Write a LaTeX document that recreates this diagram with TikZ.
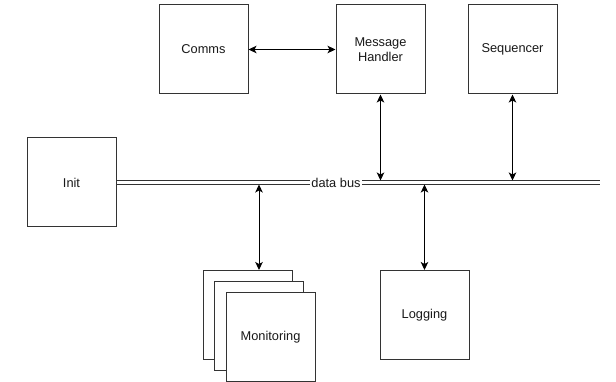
\documentclass[tikz,border=0pt]{standalone}
\usepackage{fontspec}
\setmainfont{Liberation Sans}
\usetikzlibrary{arrows.meta}

\begin{document}
\begin{tikzpicture}[
    % one unit is one pixel of the sketch, y runs downwards
    x=1pt, y=-1pt,
    block/.style={draw=black!80, fill=white, line width=1pt,
        minimum width=89pt, minimum height=89pt, align=center,
        font=\fontsize{12.8}{15}\selectfont, text=black!90},
    link/.style={draw=black, line width=1pt,
        {Stealth[length=8pt,width=7.5pt,inset=2pt]}-{Stealth[length=8pt,width=7.5pt,inset=2pt]}},
    bus/.style={draw=black!80, line width=0.9pt, double=white, double distance=2.6pt}
]
    \useasboundingbox (0,0) rectangle (616,382);

    % --- Blocks ---
    \node[block] (comms) at (203.5,49.5) {Comms};
    \node[block] (mh)    at (380.5,49.5) {Message\\Handler};
    \node[block] (seq)   at (512.5,49.5) {Sequencer};
    \node[block] (init)  at (71.5,182.5) {Init};
    \node[block] (log)   at (424.5,315)  {Logging};

    % stacked copies for the monitoring block, back to front
    \node[block] (mon3) at (248,315)   {};
    \node[block] (mon2) at (259,326)   {};
    \node[block] (mon)  at (270.5,337) {Monitoring};

    % --- The data bus ---
    \coordinate (busR) at (600,182.5);
    \coordinate (top)  at (0,180.5);
    \coordinate (bot)  at (0,184.5);
    \draw[bus] (init.east) -- (busR);
    \node[fill=white, inner sep=1pt, font=\fontsize{12.8}{15}\selectfont, text=black!90]
        (buslbl) at (336,182.5) {data bus};

    % --- Links ---
    \draw[link] (comms.east) -- (mh.west);
    \draw[link] (mh.south) -- (mh.south |- top);
    \draw[link] (seq.south) -- (seq.south |- top);
    \draw[link] (mon2.north |- bot) -- (mon2.north |- mon3.north);
    \draw[link] (log.north |- bot) -- (log.north);
\end{tikzpicture}
\end{document}
